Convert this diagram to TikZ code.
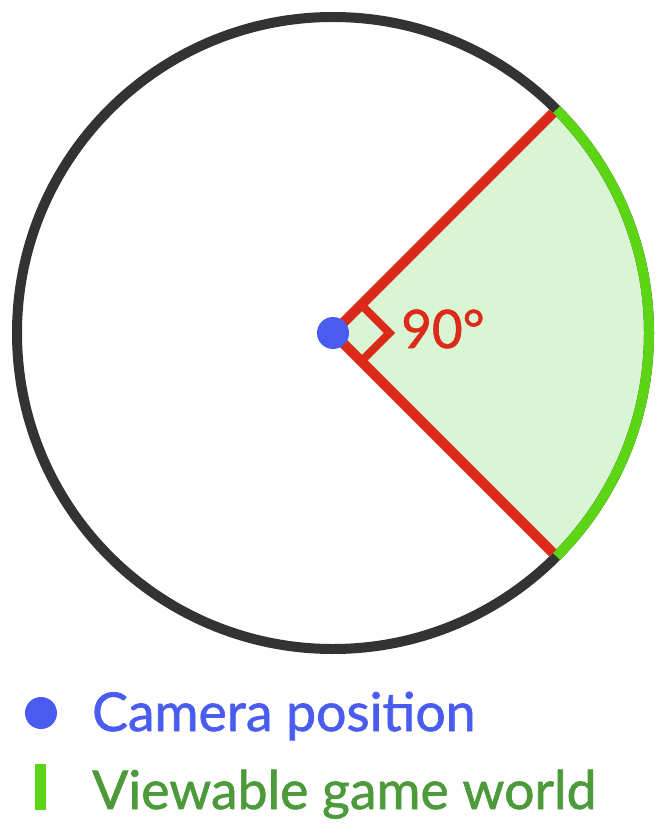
\documentclass[tikz,border=0pt]{standalone}
\usepackage{fontspec}
\setmainfont{Lato}[FakeBold=1.2]
\usetikzlibrary{calc}
\definecolor{ringc}{HTML}{333333}
\definecolor{redc}{HTML}{DC2A1A}
\definecolor{arcg}{HTML}{5CD614}
\definecolor{fillg}{HTML}{D9F5D3}
\definecolor{bluec}{HTML}{4A5CF0}
\definecolor{textg}{HTML}{4C9A3A}
\tikzset{
  redline/.style={draw=redc, line width=10pt},
  lbl/.style={inner sep=0pt, anchor=base west},
}
\begin{document}
\begin{tikzpicture}[x=1pt,y=-1pt]
\useasboundingbox (0,0) rectangle (665,834);
\coordinate (c) at (333,333);
% wedge fill
\fill[fillg] (c) -- ++(-45:316) arc[start angle=-45, end angle=45, radius=316] -- cycle;
% ring
\draw[ringc, line width=10pt] (c) circle[radius=316];
% green arc
\draw[arcg, line width=10pt] (c) ++(-45:316) arc[start angle=-45, end angle=45, radius=316];
% red lines
\coordinate (u) at ($(c)+(-45:311)$);
\coordinate (d) at ($(c)+(45:311)$);
\draw[redline] (u) -- (c) -- (d);
% right angle marker
\coordinate (m1) at ($(c)+(-45:40)$);
\coordinate (m2) at ($(c)+(-45:40)+(45:40)$);
\coordinate (m3) at ($(c)+(45:40)$);
\draw[redc, line width=8pt] (m1) -- (m2) -- (m3);
% camera dot
\fill[bluec] (c) circle[radius=16];
\node[lbl, text=redc, font=\fontsize{53}{58}\selectfont] (ang) at (401,348) {90°};
% legend
\fill[bluec] (41,713) circle[radius=16];
\fill[arcg] (35,764) rectangle (46,810);
\node[lbl, text=bluec, font=\fontsize{53.5}{58}\selectfont] (cam) at (92,731) {Camera position};
\node[lbl, text=textg, font=\fontsize{53.5}{58}\selectfont] (view) at (92,809) {Viewable game world};
\end{tikzpicture}
\end{document}
